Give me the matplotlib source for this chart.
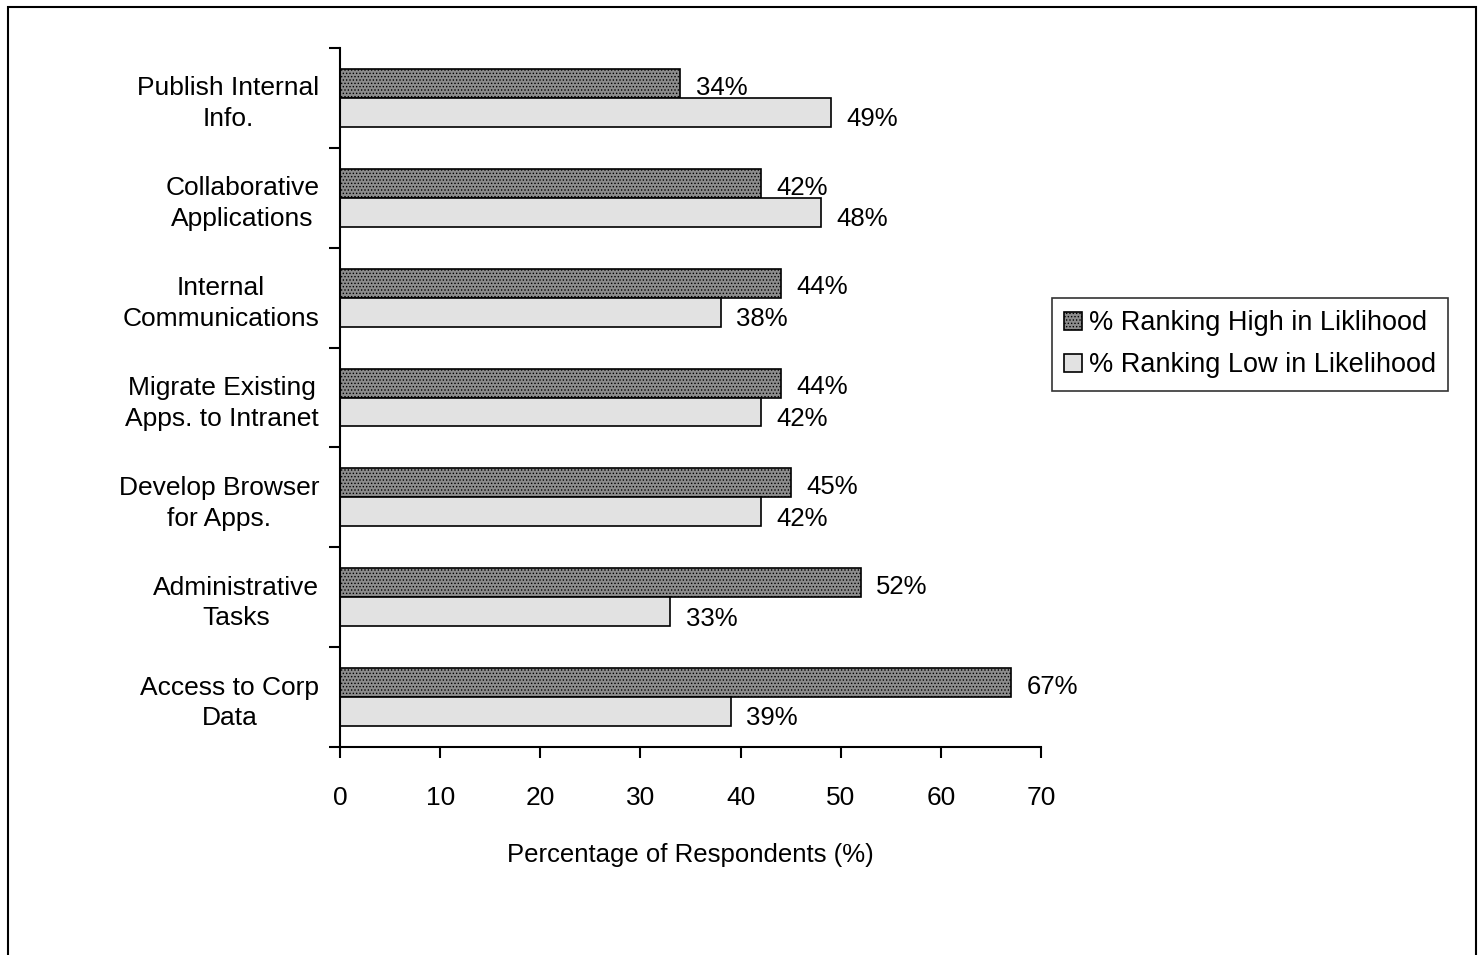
import matplotlib
matplotlib.use('Agg')
from matplotlib import pyplot as plt
from matplotlib.patches import Rectangle
import numpy as np

categories = ['Publish Internal\nInfo.', 'Collaborative\nApplications', 'Internal\nCommunications',
              'Migrate Existing\nApps. to Intranet', 'Develop Browser\nfor Apps.',
              'Administrative\nTasks', 'Access to Corp\nData']
high = [34, 42, 44, 44, 45, 52, 67]
low = [49, 48, 38, 42, 42, 33, 39]
series_names = ['% Ranking High in Liklihood', '% Ranking Low in Likelihood']

plt.rcParams['font.family'] = ['Liberation Sans', 'DejaVu Sans']
plt.rcParams['hatch.linewidth'] = 0.6

fig = plt.figure(figsize=(14.84, 9.55), dpi=100)
ax = fig.add_axes([0.2291, 0.2178, 0.4724, 0.7319])

y = np.arange(len(categories))
h = 0.29
b1 = ax.barh(y - 0.145, high, height=h, color='#8c8c8c', edgecolor='black', linewidth=1.2,
             hatch='.....', label=series_names[0])
b2 = ax.barh(y + 0.145, low, height=h, color='#e2e2e2', edgecolor='black', linewidth=1.2,
             label=series_names[1])

for i in range(len(categories)):
    ax.annotate('%d%%' % high[i], (high[i], y[i] - 0.145), xytext=(11, -3),
                textcoords='offset points', ha='left', va='center', fontsize=18.5)
    ax.annotate('%d%%' % low[i], (low[i], y[i] + 0.145), xytext=(11, -5),
                textcoords='offset points', ha='left', va='center', fontsize=18.5)

ax.set_xlim(0, 70)
ax.set_ylim(6.5, -0.5)
ax.set_xticks(np.arange(0, 71, 10))
ax.tick_params(axis='x', labelsize=19, length=8, width=1.5, pad=20, direction='out')

ax.set_yticks(np.arange(-0.5, 7, 1))
ax.set_yticklabels([])
ax.tick_params(axis='y', which='major', length=8, width=1.5, direction='out')
ax.set_yticks(y, minor=True)
ax.set_yticklabels(categories, minor=True, fontsize=19, multialignment='center',
                   linespacing=1.35)
ax.tick_params(axis='y', which='minor', length=0, pad=15)

ax.spines['top'].set_visible(False)
ax.spines['right'].set_visible(False)
ax.spines['left'].set_linewidth(1.5)
ax.spines['bottom'].set_linewidth(1.5)

ax.set_xlabel('Percentage of Respondents (%)', fontsize=18.5, labelpad=24)

fig.legend(handles=[b1, b2], loc='upper left', bbox_to_anchor=(1052/1484, 1 - 298/955),
           fontsize=19.5, frameon=True, fancybox=False, edgecolor='black',
           handlelength=0.65, handleheight=0.65, handletextpad=0.25,
           borderpad=0.45, labelspacing=0.6, borderaxespad=0)
fig.legends[0].get_frame().set_linewidth(1.2)

fig.add_artist(Rectangle((8/1484, -10/955), 1468/1484, 958/955, transform=fig.transFigure,
                         fill=False, edgecolor='black', linewidth=1.5))

fig.savefig('out.png', dpi=100)
